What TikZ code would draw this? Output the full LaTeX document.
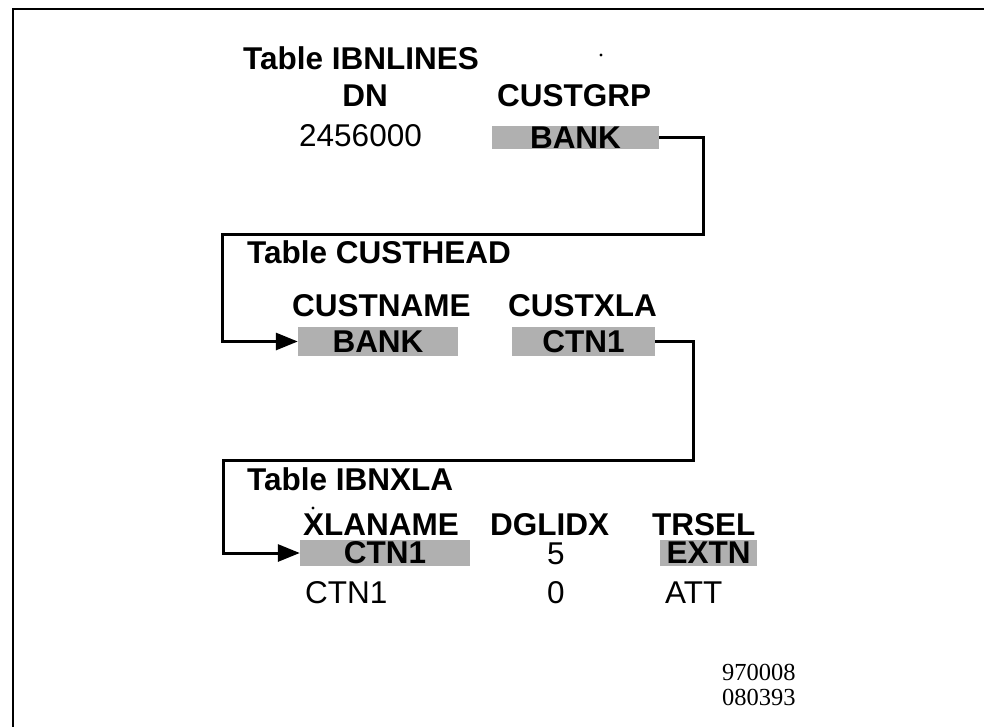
\documentclass[tikz,border=0pt]{standalone}
\usepackage{fontspec}
\setmainfont{Liberation Sans}
\newfontfamily\serifnum{Liberation Serif}
\usetikzlibrary{arrows.meta}
\begin{document}
\begin{tikzpicture}[x=1pt,y=-1pt,
  hd/.style={font=\fontsize{31.5}{33}\selectfont\bfseries, inner sep=0pt, text depth=0pt, anchor=base west},
  hdc/.style={hd, anchor=base},
  val/.style={font=\fontsize{31.5}{33}\selectfont, inner sep=0pt, text depth=0pt, anchor=base west},
  valc/.style={val, anchor=base},
  shadebox/.style={fill=gray!62, draw=none, inner sep=0pt, font=\fontsize{31.5}{33}\selectfont\bfseries},
  link/.style={line width=3pt},
  arr/.style={-{Triangle[length=22pt,width=17pt]}},
  note/.style={font=\serifnum\fontsize{24.5}{26}\selectfont, inner sep=0pt, anchor=base west}]
\useasboundingbox (0,0) rectangle (984,727);
% frame
\draw[line width=2pt] (13,727) |- (984,9);
% specks
\fill (601,55) circle (1.6);
\fill (313,508) circle (1.6);
% Table IBNLINES
\node[hd] (t1) at (243,70) {Table IBNLINES};
\node[hdc] (dn) at (365,107) {DN};
\node[hd] (custgrp) at (497,107) {CUSTGRP};
\node[val] (num) at (299,147) {2456000};
\node[shadebox, minimum width=167, minimum height=23] (bank1) at (575.5,137.5) {BANK};
% Table CUSTHEAD
\node[hd] (t2) at (247,263) {Table CUSTHEAD};
\node[hd] (custname) at (292,316) {CUSTNAME};
\node[hd] (custxla) at (508,316) {CUSTXLA};
\node[shadebox, minimum width=160, minimum height=29] (bank2) at (378,341.5) {BANK};
\node[shadebox, minimum width=143, minimum height=29] (ctn1) at (583.5,341.5) {CTN1};
% Table IBNXLA
\node[hd] (t3) at (247,490) {Table IBNXLA};
\node[hd] (xlaname) at (303,535) {XLANAME};
\node[hd] (dglidx) at (490,535) {DGLIDX};
\node[hd] (trsel) at (652,535) {TRSEL};
\node[shadebox, minimum width=170, minimum height=26] (ctn2) at (385,553) {CTN1};
\node[valc] (five) at (556,564) {5};
\node[shadebox, minimum width=97, minimum height=26] (extn) at (708.5,553) {EXTN};
\node[val] (ctn3) at (305,603) {CTN1};
\node[valc] (zero) at (556,603) {0};
\node[val] (att) at (665,603) {ATT};
% note
\node[note] (n1) at (722,680) {970008};
\node[note] (n2) at (722,705) {080393};
% connectors
\coordinate (c1a) at (703,235);
\coordinate (c1b) at (222,235);
\draw[link,arr] (bank1.east) -| (c1a) -- (c1b) |- (bank2.west);
\coordinate (c2a) at (693,460);
\coordinate (c2b) at (223,460);
\draw[link,arr] (ctn1.east) -| (c2a) -- (c2b) |- (ctn2.west);
\end{tikzpicture}
\end{document}
